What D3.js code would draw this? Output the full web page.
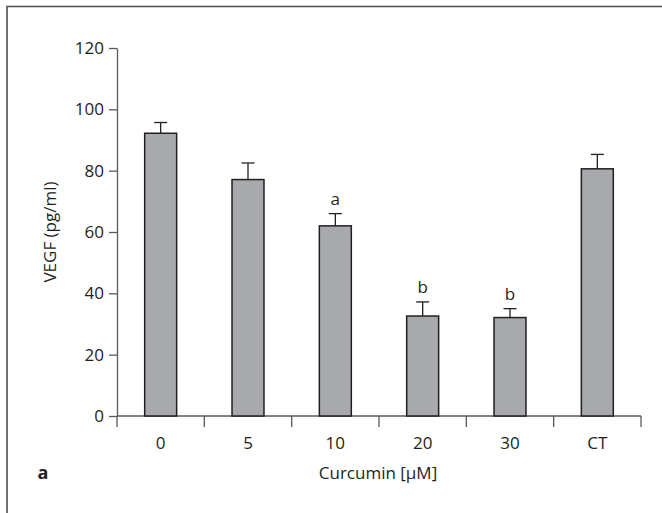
<!DOCTYPE html>
<html>
<head>
<meta charset="utf-8">
<script src="https://cdn.jsdelivr.net/npm/d3@7"></script>
<style>
  body { margin: 0; background: #fff; }
  svg text { font-family: "Open Sans", "Noto Sans", sans-serif; fill: #231f20; }
</style>
</head>
<body>
<svg id="chart" width="662" height="513"></svg>
<script>
// chart data
const categories = ["0", "5", "10", "20", "30", "CT"];
const means = [92.2, 77.1, 62.0, 32.6, 32.1, 80.6];
const errors = [3.5, 5.4, 4.0, 4.6, 2.9, 4.7];
const letters = ["", "", "a", "b", "b", ""];
const yTicks = [0, 20, 40, 60, 80, 100, 120];

const svg = d3.select("#chart");
const plotLeft = 117, plotRight = 641, plotTop = 48, plotBottom = 416;
const FONT = 17;

const x = d3.scaleBand().domain(categories).range([plotLeft, plotRight]).paddingInner(0.634).paddingOuter(0.317);
const y = d3.scaleLinear().domain([0, 120]).range([plotBottom, plotTop]);

// outer frame (only top and left edges are visible)
svg.append("path")
    .attr("d", "M7,514V6.5H662")
    .attr("fill", "none").attr("stroke", "#4d4d4f").attr("stroke-width", 1.6);

// y axis
const yAxis = svg.append("g")
    .attr("transform", `translate(${plotLeft},0)`)
    .call(d3.axisLeft(y).tickValues(yTicks).tickSize(8).tickPadding(5).tickSizeOuter(0));
yAxis.select(".domain").attr("stroke", "#58595b").attr("stroke-width", 1.3);
yAxis.selectAll(".tick line").attr("stroke", "#58595b").attr("stroke-width", 1.3);
yAxis.selectAll("text").attr("font-size", FONT).attr("fill", "#231f20").attr("font-family", null);

// x axis: ticks sit between categories
const edges = d3.range(categories.length + 1).map(i => plotLeft + i * x.step());
const xAxisG = svg.append("g");
xAxisG.append("line")
    .attr("x1", plotLeft).attr("x2", plotRight).attr("y1", plotBottom).attr("y2", plotBottom)
    .attr("stroke", "#58595b").attr("stroke-width", 1.3);
xAxisG.selectAll("line.tk").data(edges).join("line")
    .attr("class", "tk")
    .attr("x1", d => d).attr("x2", d => d)
    .attr("y1", plotBottom).attr("y2", plotBottom + 11)
    .attr("stroke", "#58595b").attr("stroke-width", 1.3);
xAxisG.selectAll("text").data(categories).join("text")
    .attr("x", d => x(d) + x.bandwidth() / 2)
    .attr("y", 449)
    .attr("text-anchor", "middle")
    .attr("font-size", FONT)
    .text(d => d);

// error bars
const capHalf = 6.5;
const eb = svg.append("g");
categories.forEach((c, i) => {
    const cx = x(c) + x.bandwidth() / 2;
    eb.append("line")
        .attr("x1", cx).attr("x2", cx)
        .attr("y1", y(means[i])).attr("y2", y(means[i] + errors[i]))
        .attr("stroke", "#231f20").attr("stroke-width", 1.3);
    eb.append("line")
        .attr("x1", cx - capHalf).attr("x2", cx + capHalf)
        .attr("y1", y(means[i] + errors[i])).attr("y2", y(means[i] + errors[i]))
        .attr("stroke", "#231f20").attr("stroke-width", 1.3);
});

// bars
svg.append("g").selectAll("rect").data(categories).join("rect")
    .attr("x", d => x(d))
    .attr("width", x.bandwidth())
    .attr("y", (d, i) => y(means[i]))
    .attr("height", (d, i) => plotBottom - y(means[i]))
    .attr("fill", "#a7a9ac")
    .attr("stroke", "#231f20")
    .attr("stroke-width", 1.5);

// significance letters
svg.append("g").selectAll("text").data(categories).join("text")
    .attr("x", d => x(d) + x.bandwidth() / 2)
    .attr("y", (d, i) => y(means[i] + errors[i]) - 9)
    .attr("text-anchor", "middle")
    .attr("font-size", FONT)
    .text((d, i) => letters[i]);

// axis titles
svg.append("text")
    .attr("transform", "translate(56,232) rotate(-90)")
    .attr("text-anchor", "middle")
    .attr("font-size", FONT)
    .text("VEGF (pg/ml)");

svg.append("text")
    .attr("x", (plotLeft + plotRight) / 2 - 1)
    .attr("y", 479)
    .attr("text-anchor", "middle")
    .attr("font-size", FONT)
    .text("Curcumin [µM]");

svg.append("text")
    .attr("x", 43)
    .attr("y", 479)
    .attr("text-anchor", "middle")
    .attr("font-size", 18)
    .attr("font-weight", "bold")
    .text("a");
</script>
</body>
</html>
